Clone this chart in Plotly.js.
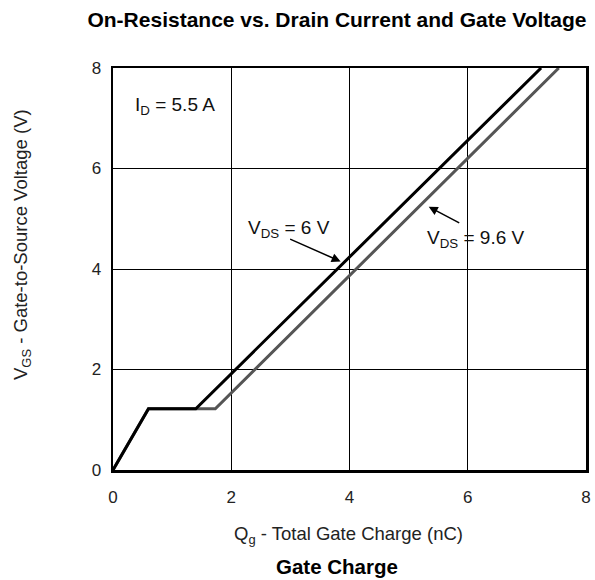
<!DOCTYPE html>
<html>
<head>
<meta charset="utf-8">
<script src="https://cdn.plot.ly/plotly-3.0.1.min.js"></script>
<style>html,body{margin:0;padding:0;background:#fff;}#chart{width:595px;height:580px;}</style>
</head>
<body>
<div id="chart"></div>
<script>
// Gate charge curves (Qg in nC, VGS in V)
const qgVds6 = [0, 0.6, 1.4, 7.24];
const vgsVds6 = [0, 1.22, 1.22, 8];
const qgVds96 = [0, 0.6, 1.73, 7.54];
const vgsVds96 = [0, 1.22, 1.22, 8];
const xTicks = [0, 2, 4, 6, 8];
const yTicks = [0, 2, 4, 6, 8];

const FONT = 'Liberation Sans, Arial, Helvetica, sans-serif';
const L = 113, R = 586, T = 68, B = 470, W = 595, H = 580;
const px2x = p => (p - L) / (R - L);
const py2y = p => (B - p) / (B - T);

const traces = [
  {x: qgVds96, y: vgsVds96, mode: 'lines', line: {color: '#555555', width: 3}, hoverinfo: 'skip'},
  {x: qgVds6, y: vgsVds6, mode: 'lines', line: {color: '#000000', width: 3}, hoverinfo: 'skip'}
];

const axisCommon = {
  range: [0, 8], tickvals: xTicks, ticktext: xTicks.map(String),
  showgrid: true, gridcolor: '#000', gridwidth: 1,
  showline: true, linecolor: '#000', linewidth: 2.5, mirror: true,
  zeroline: false, ticks: '', tickfont: {family: FONT, size: 17, color: '#222'},
  fixedrange: true
};

const layout = {
  width: W, height: H,
  margin: {l: L, r: W - R, t: T, b: H - B, pad: 0},
  paper_bgcolor: '#fff', plot_bgcolor: '#fff',
  showlegend: false,
  title: {text: '<b>On-Resistance vs. Drain Current and Gate Voltage</b>',
    font: {family: FONT, size: 21, color: '#000'},
    xref: 'paper', x: px2x(337), xanchor: 'center', yref: 'container', y: 1 - 20 / H, yanchor: 'middle'},
  xaxis: Object.assign({}, axisCommon, {ticklabelstandoff: 10}),
  yaxis: Object.assign({}, axisCommon, {tickvals: yTicks, ticktext: yTicks.map(String), ticklabelstandoff: 6}),
  annotations: [
    {xref: 'paper', yref: 'paper', x: px2x(348), y: py2y(535), text: 'Q<sub>g</sub> - Total Gate Charge (nC)',
     showarrow: false, font: {family: FONT, size: 18.5, color: '#222'}, xanchor: 'center', yanchor: 'middle'},
    {xref: 'paper', yref: 'paper', x: px2x(337), y: py2y(566), text: '<b>Gate Charge</b>',
     showarrow: false, font: {family: FONT, size: 20.5, color: '#000'}, xanchor: 'center', yanchor: 'middle'},
    {xref: 'paper', yref: 'paper', x: px2x(22), y: py2y(245), text: 'V<sub>GS</sub> - Gate-to-Source Voltage (V)',
     textangle: -90, showarrow: false, font: {family: FONT, size: 18.5, color: '#222'}, xanchor: 'center', yanchor: 'middle'},
    {xref: 'x', yref: 'y', x: 0.34, y: 7.24, text: 'I<sub>D</sub> = 5.5 A', showarrow: false,
     font: {family: FONT, size: 19, color: '#111'}, xanchor: 'left', yanchor: 'middle'},
    {xref: 'x', yref: 'y', x: 2.98, y: 4.8, text: 'V<sub>DS</sub> = 6 V', showarrow: false,
     font: {family: FONT, size: 19, color: '#111'}, xanchor: 'center', yanchor: 'middle'},
    {xref: 'x', yref: 'y', x: 6.14, y: 4.6, text: 'V<sub>DS</sub> = 9.6 V', showarrow: false,
     font: {family: FONT, size: 19, color: '#111'}, xanchor: 'center', yanchor: 'middle'},
    {xref: 'x', yref: 'y', x: 3.85, y: 4.15, ax: -52, ay: -23, text: '', showarrow: true,
     arrowhead: 2, arrowsize: 1.2, arrowwidth: 1.5, arrowcolor: '#000'},
    {xref: 'x', yref: 'y', x: 5.34, y: 5.24, ax: 32, ay: 17, text: '', showarrow: true,
     arrowhead: 2, arrowsize: 1.2, arrowwidth: 1.5, arrowcolor: '#000'}
  ]
};

Plotly.newPlot('chart', traces, layout, {staticPlot: true, displayModeBar: false});
</script>
</body>
</html>
